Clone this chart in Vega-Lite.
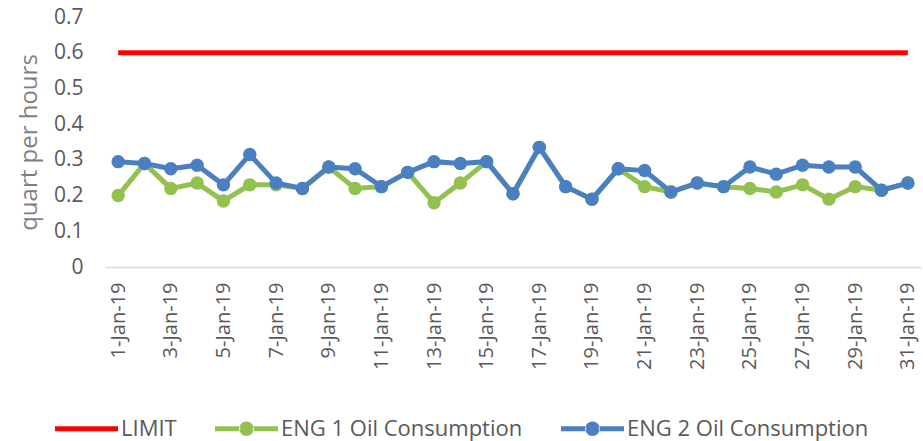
{
  "$schema": "https://vega.github.io/schema/vega-lite/v6.json",
  "width": 816,
  "height": 250,
  "autosize": {"type": "none"},
  "padding": {"left": 105, "top": 17, "right": 2, "bottom": 174},
  "background": "white",
  "config": {
    "view": {"stroke": null},
    "font": "Open Sans",
    "axis": {"labelFont": "Open Sans", "titleFont": "Open Sans", "labelColor": "#595959", "titleColor": "#7f7f7f"},
    "legend": {"labelFont": "Open Sans"}
  },
  "data": {
    "values": [
      {"date": "1-Jan-19", "d": 1, "eng1": 0.20, "eng2": 0.295},
      {"date": "2-Jan-19", "d": 2, "eng1": 0.29, "eng2": 0.29},
      {"date": "3-Jan-19", "d": 3, "eng1": 0.22, "eng2": 0.275},
      {"date": "4-Jan-19", "d": 4, "eng1": 0.235, "eng2": 0.285},
      {"date": "5-Jan-19", "d": 5, "eng1": 0.185, "eng2": 0.23},
      {"date": "6-Jan-19", "d": 6, "eng1": 0.23, "eng2": 0.315},
      {"date": "7-Jan-19", "d": 7, "eng1": 0.23, "eng2": 0.235},
      {"date": "8-Jan-19", "d": 8, "eng1": 0.22, "eng2": 0.22},
      {"date": "9-Jan-19", "d": 9, "eng1": 0.28, "eng2": 0.28},
      {"date": "10-Jan-19", "d": 10, "eng1": 0.22, "eng2": 0.275},
      {"date": "11-Jan-19", "d": 11, "eng1": 0.225, "eng2": 0.225},
      {"date": "12-Jan-19", "d": 12, "eng1": 0.265, "eng2": 0.265},
      {"date": "13-Jan-19", "d": 13, "eng1": 0.18, "eng2": 0.295},
      {"date": "14-Jan-19", "d": 14, "eng1": 0.235, "eng2": 0.29},
      {"date": "15-Jan-19", "d": 15, "eng1": 0.295, "eng2": 0.295},
      {"date": "16-Jan-19", "d": 16, "eng1": 0.205, "eng2": 0.205},
      {"date": "17-Jan-19", "d": 17, "eng1": 0.335, "eng2": 0.335},
      {"date": "18-Jan-19", "d": 18, "eng1": 0.225, "eng2": 0.225},
      {"date": "19-Jan-19", "d": 19, "eng1": 0.19, "eng2": 0.19},
      {"date": "20-Jan-19", "d": 20, "eng1": 0.275, "eng2": 0.275},
      {"date": "21-Jan-19", "d": 21, "eng1": 0.225, "eng2": 0.27},
      {"date": "22-Jan-19", "d": 22, "eng1": 0.21, "eng2": 0.21},
      {"date": "23-Jan-19", "d": 23, "eng1": 0.235, "eng2": 0.235},
      {"date": "24-Jan-19", "d": 24, "eng1": 0.225, "eng2": 0.225},
      {"date": "25-Jan-19", "d": 25, "eng1": 0.22, "eng2": 0.28},
      {"date": "26-Jan-19", "d": 26, "eng1": 0.21, "eng2": 0.26},
      {"date": "27-Jan-19", "d": 27, "eng1": 0.23, "eng2": 0.285},
      {"date": "28-Jan-19", "d": 28, "eng1": 0.19, "eng2": 0.28},
      {"date": "29-Jan-19", "d": 29, "eng1": 0.225, "eng2": 0.28},
      {"date": "30-Jan-19", "d": 30, "eng1": 0.215, "eng2": 0.215},
      {"date": "31-Jan-19", "d": 31, "eng1": 0.235, "eng2": 0.235}
    ]
  },
  "transform": [
    {"calculate": "0.6", "as": "LIMIT"},
    {"fold": ["LIMIT", "eng1", "eng2"], "as": ["key", "value"]},
    {"calculate": "datum.key == 'LIMIT' ? 'LIMIT' : datum.key == 'eng1' ? 'ENG 1 Oil Consumption' : 'ENG 2 Oil Consumption'", "as": "series"}
  ],
  "encoding": {
    "x": {
      "field": "date", "type": "ordinal", "sort": {"field": "d"},
      "scale": {"type": "point", "padding": 0.5},
      "axis": {
        "title": null,
        "labelAngle": -90,
        "labelFontSize": 20,
        "labelPadding": 15,
        "values": ["1-Jan-19","3-Jan-19","5-Jan-19","7-Jan-19","9-Jan-19","11-Jan-19","13-Jan-19","15-Jan-19","17-Jan-19","19-Jan-19","21-Jan-19","23-Jan-19","25-Jan-19","27-Jan-19","29-Jan-19","31-Jan-19"],
        "domainColor": "#d9d9d9",
        "domainWidth": 1.5,
        "ticks": false,
        "grid": false
      }
    },
    "y": {
      "field": "value", "type": "quantitative",
      "scale": {"domain": [0, 0.7], "nice": false},
      "axis": {
        "title": "quart per hours",
        "titleFontSize": 24,
        "titleFontWeight": "normal",
        "titlePadding": 12,
        "labelFontSize": 21,
        "labelPadding": 22,
        "labelOverlap": false,
        "format": ".1~f",
        "values": [0, 0.1, 0.2, 0.3, 0.4, 0.5, 0.6, 0.7],
        "domain": false,
        "ticks": false,
        "grid": false
      }
    }
  },
  "layer": [
    {"transform": [{"filter": "datum.key == 'LIMIT'"}], "mark": {"type": "line", "strokeWidth": 5, "color": "#ff0000"}},
    {"transform": [{"filter": "datum.key == 'eng1'"}], "mark": {"type": "line", "strokeWidth": 5, "color": "#92c150"}},
    {"transform": [{"filter": "datum.key == 'eng1'"}], "mark": {"type": "point", "filled": true, "opacity": 1, "size": 180, "color": "#92c150"}},
    {"transform": [{"filter": "datum.key == 'eng2'"}], "mark": {"type": "line", "strokeWidth": 5, "color": "#4a7fc1"}},
    {"transform": [{"filter": "datum.key == 'eng2'"}], "mark": {"type": "point", "filled": true, "opacity": 1, "size": 180, "color": "#4a7fc1"}},
    {
      "transform": [{"filter": "datum.d < 0"}],
      "mark": {"type": "point", "filled": true, "opacity": 1},
      "encoding": {
        "color": {
          "field": "series", "type": "nominal",
          "scale": {"domain": ["LIMIT", "ENG 1 Oil Consumption", "ENG 2 Oil Consumption"], "range": ["#ff0000", "#92c150", "#4a7fc1"]},
          "legend": {
            "title": null,
            "orient": "none",
            "direction": "horizontal",
            "legendX": -50,
            "legendY": 380,
            "symbolSize": 3969,
            "symbolStrokeWidth": 0,
            "labelFontSize": 22,
            "labelLimit": 400,
            "labelColor": "#595959",
            "columnPadding": 38,
            "labelOffset": 3
          }
        },
        "shape": {
          "field": "series", "type": "nominal",
          "scale": {
            "domain": ["LIMIT", "ENG 1 Oil Consumption", "ENG 2 Oil Consumption"],
            "range": [
              "M-1,-0.08L1,-0.08L1,0.08L-1,0.08Z",
              "M-1,-0.08L-0.2,-0.08L-0.2,0.08L-1,0.08ZM0.2,-0.08L1,-0.08L1,0.08L0.2,0.08ZM-0.23,0A0.23,0.23 0 1,0 0.23,0A0.23,0.23 0 1,0 -0.23,0Z",
              "M-1,-0.08L-0.2,-0.08L-0.2,0.08L-1,0.08ZM0.2,-0.08L1,-0.08L1,0.08L0.2,0.08ZM-0.23,0A0.23,0.23 0 1,0 0.23,0A0.23,0.23 0 1,0 -0.23,0Z"
            ]
          },
          "legend": {
            "title": null,
            "orient": "none",
            "direction": "horizontal",
            "legendX": -50,
            "legendY": 380,
            "symbolSize": 3969,
            "symbolStrokeWidth": 0,
            "labelFontSize": 22,
            "labelLimit": 400,
            "labelColor": "#595959",
            "columnPadding": 38,
            "labelOffset": 3
          }
        }
      }
    }
  ]
}
